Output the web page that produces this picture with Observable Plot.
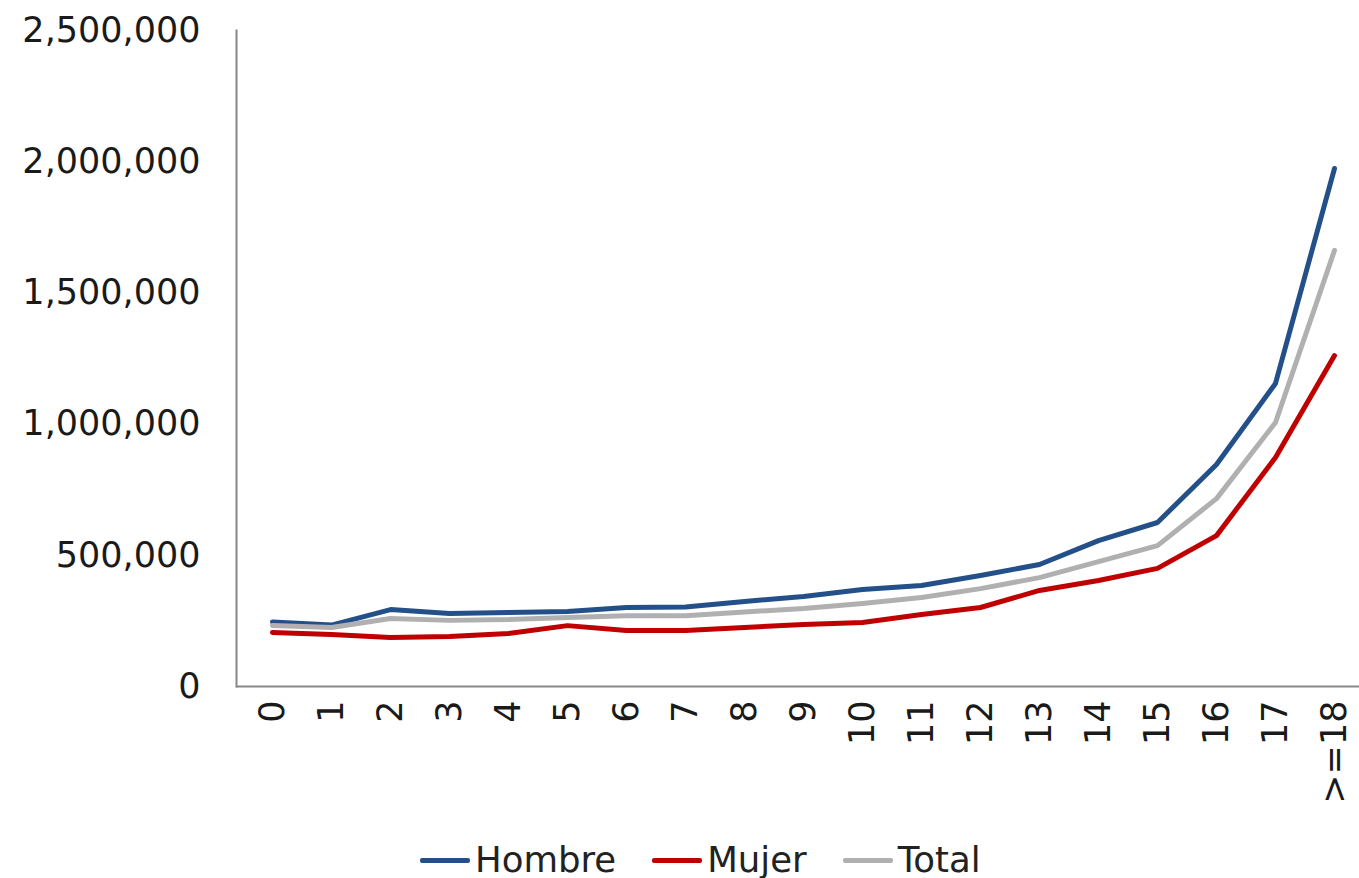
<!DOCTYPE html>
<html>
<head>
<meta charset="utf-8">
<script src="https://cdn.jsdelivr.net/npm/d3@7"></script>
<script src="https://cdn.jsdelivr.net/npm/@observablehq/plot@0.6"></script>
<style>
  html, body { margin: 0; padding: 0; background: #fff; }
  body { width: 1359px; height: 878px; overflow: hidden; font-family: "DejaVu Sans", Verdana, sans-serif; }
  #legend { display: flex; align-items: center; margin-left: 420px; margin-top: 4px; height: 44px; font-size: 35.5px; color: #222; line-height: 44px; }
  .item { display: flex; align-items: center; margin-right: 36px; }
  .sw { width: 50px; height: 5px; border-radius: 2px; margin-right: 5px; }
</style>
</head>
<body>
<div id="chart"></div>
<div id="legend"></div>
<script>
const categories = ["0","1","2","3","4","5","6","7","8","9","10","11","12","13","14","15","16","17",">=18"];
const hombre = [246000, 234000, 293000, 278000, 282000, 286000, 301000, 303000, 324000, 343000, 370000, 385000, 423000, 465000, 556000, 625000, 846000, 1155000, 1974000];
const mujer  = [206000, 198000, 187000, 191000, 202000, 232000, 213000, 213000, 225000, 236000, 244000, 274000, 301000, 366000, 404000, 450000, 575000, 873000, 1261000];
const total  = [232000, 225000, 259000, 252000, 255000, 263000, 270000, 270000, 284000, 297000, 316000, 339000, 373000, 415000, 476000, 537000, 716000, 1006000, 1662000];
const seriesNames = ["Hombre", "Mujer", "Total"];
const seriesColors = ["#24508a", "#c00000", "#b0b0b0"];
const yTicks = [0, 500000, 1000000, 1500000, 2000000, 2500000];

const seriesValues = [hombre, mujer, total];
const rows = [];
seriesNames.forEach((s, si) => {
  categories.forEach((c, i) => rows.push({serie: s, cat: c, value: seriesValues[si][i]}));
});

const chart = Plot.plot({
  width: 1359,
  height: 834,
  marginLeft: 236,
  marginRight: 0,
  marginTop: 30,
  marginBottom: 148,
  style: {fontFamily: "DejaVu Sans, Verdana, sans-serif", fontSize: "35px", color: "#1a1a1a", background: "#fff"},
  x: {type: "point", domain: categories, range: [265, 1340], padding: 0, label: null},
  y: {domain: [0, 2500000], label: null},
  color: {domain: seriesNames, range: seriesColors},
  marks: [
    Plot.axisY({ticks: yTicks, tickFormat: d3.format(","), tickSize: 0, tickPadding: 36, fontSize: 35}),
    Plot.axisX({tickRotate: -90, tickSize: 0, tickPadding: 14, fontSize: 35}),
    Plot.frame({anchor: "left", stroke: "#878787", strokeWidth: 2}),
    Plot.ruleY([0], {stroke: "#878787", strokeWidth: 2}),
    Plot.line(rows, {x: "cat", y: "value", z: "serie", stroke: "serie", strokeWidth: 5, strokeLinejoin: "round", strokeLinecap: "round"})
  ]
});
document.getElementById("chart").appendChild(chart);

const legend = document.getElementById("legend");
seriesNames.forEach((s, i) => {
  const item = document.createElement("div");
  item.className = "item";
  const sw = document.createElement("div");
  sw.className = "sw";
  sw.style.background = seriesColors[i];
  const t = document.createElement("span");
  t.textContent = s;
  item.appendChild(sw);
  item.appendChild(t);
  legend.appendChild(item);
});
</script>
</body>
</html>
